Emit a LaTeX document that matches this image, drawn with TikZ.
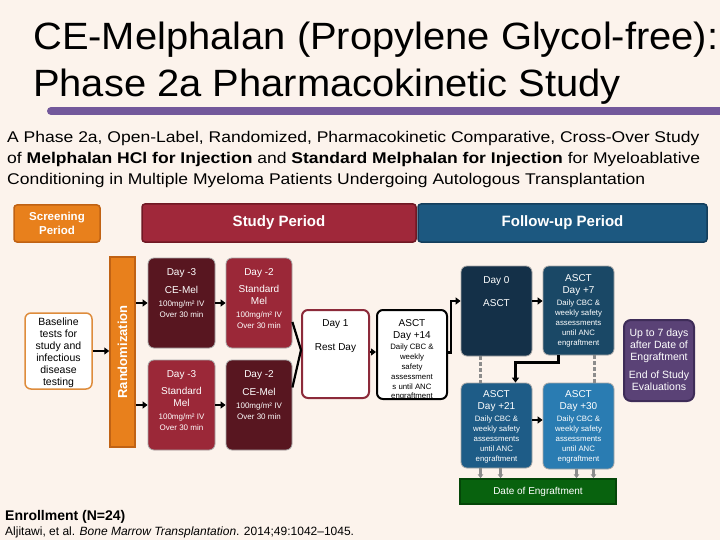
\documentclass[tikz,border=0pt]{standalone}
\usepackage{fontspec}
\setmainfont{Liberation Sans}
\usetikzlibrary{arrows.meta, positioning, calc}
\definecolor{bgcream}{RGB}{252,243,236}
\definecolor{titlepurple}{RGB}{115,88,155}
\definecolor{scrorange}{RGB}{232,128,28}
\definecolor{scrorangedark}{RGB}{192,98,20}
\definecolor{studyred}{RGB}{160,40,58}
\definecolor{studyreddark}{RGB}{112,24,36}
\definecolor{followblue}{RGB}{28,88,128}
\definecolor{followbluedark}{RGB}{20,62,92}
\definecolor{celmaroon}{RGB}{88,22,32}
\definecolor{stdred}{RGB}{155,40,56}
\definecolor{restedge}{RGB}{140,42,58}
\definecolor{dayzero}{RGB}{20,48,72}
\definecolor{dayseven}{RGB}{26,72,102}
\definecolor{daytwentyone}{RGB}{30,92,135}
\definecolor{daythirty}{RGB}{42,124,178}
\definecolor{engrgreen}{RGB}{8,98,14}
\definecolor{engrgreendark}{RGB}{4,70,8}
\definecolor{eospurple}{RGB}{90,66,118}
\definecolor{eospurpledark}{RGB}{62,44,88}
\definecolor{arrowgray}{RGB}{140,140,140}
\definecolor{baseorange}{RGB}{222,140,60}

\newcommand{\inbox}[3]{\parbox[c][#2][t]{#1}{\centering #3}}
\newcommand{\dayfont}{\fontsize{10}{12}\selectfont}
\newcommand{\dosefont}{\fontsize{8}{11}\selectfont}
\newcommand{\notefont}{\fontsize{7.8}{9.8}\selectfont}
\newcommand{\subline}[1]{\scalebox{1.13}[1]{#1}}

\tikzset{
  phase/.style={rounded corners=3pt, line width=1.5pt, text=white, align=center, inner sep=0pt},
  dosebox/.style={rounded corners=6pt, draw=black!35, line width=0.8pt, text=white, inner sep=3pt},
  followbox/.style={rounded corners=6pt, draw=gray!70, line width=0.8pt, text=white, inner sep=3pt},
  plainbox/.style={rounded corners=6pt, fill=white, line width=2pt, text=black, inner sep=3pt},
  arr/.style={-{Triangle[length=5pt,width=7pt]}, line width=2.5pt},
  grayarr/.style={-{Triangle[length=4pt,width=5.5pt]}, line width=2.2pt, draw=arrowgray},
  graydash/.style={line width=2.8pt, draw=arrowgray, dash pattern=on 4pt off 2pt}
}

\begin{document}
\begin{tikzpicture}[x=1pt, y=-1pt]
\useasboundingbox (0,0) rectangle (720,540);
\fill[bgcream] (0,0) rectangle (720,540);

% title
\node[anchor=base west, inner sep=0pt, font=\fontsize{38}{38}\selectfont] (titleA) at (33,50)
  {\scalebox{1.05}[1]{CE-Melphalan (Propylene Glycol-free):}};
\node[anchor=base west, inner sep=0pt, font=\fontsize{38}{38}\selectfont] (titleB) at (33,97)
  {\scalebox{1.05}[1]{Phase 2a Pharmacokinetic Study}};
\draw[titlepurple, line width=8pt, line cap=round] (51,111) -- (720,111);

\node[anchor=north west, inner sep=0pt, align=left, font=\fontsize{15.5}{21}\selectfont] (subtitle) at (7,131)
  {\subline{A Phase 2a, Open-Label, Randomized, Pharmacokinetic Comparative, Cross-Over Study}\\
   \subline{of \textbf{Melphalan HCl for Injection} and \textbf{Standard Melphalan for Injection} for Myeloablative}\\
   \subline{Conditioning in Multiple Myeloma Patients Undergoing Autologous Transplantation}};

% period headers
\node[phase, fill=scrorange, draw=scrorangedark, minimum width=86pt, minimum height=37pt,
  font=\bfseries\fontsize{11.5}{14}\selectfont] (screen) at (57,223.5) {Screening\\Period};
\node[phase, fill=studyred, draw=studyreddark, minimum width=274pt, minimum height=38pt,
  font=\bfseries\fontsize{15}{17}\selectfont] (study) at (279,223) {Study Period};
\node[phase, fill=followblue, draw=followbluedark, minimum width=289pt, minimum height=38pt,
  font=\bfseries\fontsize{15}{17}\selectfont] (follow) at (562.5,223) {Follow-up Period};

% screening and randomization
\node[plainbox, draw=baseorange, line width=1.5pt] (baseline) at (58.5,351)
  {\inbox{61pt}{70pt}{\vspace*{2pt}\fontsize{10.5}{12}\selectfont Baseline\\tests for\\study and\\infectious\\disease\\testing\par}};
\node[phase, rounded corners=0pt, fill=scrorange, draw=scrorangedark, minimum width=25pt, minimum height=190pt,
  font=\bfseries\fontsize{13}{15}\selectfont] (rand) at (122.5,352)
  {\rotatebox{90}{Randomization}};

% study period doses
\node[dosebox, fill=celmaroon] (ceA) at (181.5,303)
  {\inbox{61pt}{84pt}{\vspace*{8pt}{\dayfont Day -3\par}\vspace{6pt}{\dayfont CE-Mel\par}\vspace{2pt}{\dosefont 100mg/m² IV\\Over 30 min\par}}};
\node[dosebox, fill=stdred] (stdB) at (259,303)
  {\inbox{60pt}{84pt}{\vspace*{8pt}{\dayfont Day -2\par}\vspace{5pt}{\dayfont Standard\\Mel\par}\vspace{2pt}{\dosefont 100mg/m² IV\\Over 30 min\par}}};
\node[dosebox, fill=stdred] (stdC) at (181.5,405)
  {\inbox{61pt}{84pt}{\vspace*{8pt}{\dayfont Day -3\par}\vspace{5pt}{\dayfont Standard\\Mel\par}\vspace{2pt}{\dosefont 100mg/m² IV\\Over 30 min\par}}};
\node[dosebox, fill=celmaroon] (ceD) at (259,405)
  {\inbox{60pt}{84pt}{\vspace*{8pt}{\dayfont Day -2\par}\vspace{6pt}{\dayfont CE-Mel\par}\vspace{2pt}{\dosefont 100mg/m² IV\\Over 30 min\par}}};

\node[plainbox, draw=restedge] (rest) at (335.5,354)
  {\inbox{61pt}{82pt}{\vspace*{7pt}{\dayfont Day 1\par}\vspace{12pt}{\dayfont Rest Day\par}}};
\node[plainbox, draw=black] (dfourteen) at (412,354.5)
  {\inbox{64pt}{83pt}{\vspace*{7pt}{\dayfont ASCT\\Day +14\par}\vspace{1.2pt}{\notefont Daily CBC \&\\weekly\\safety\\assessment\\s until ANC\\engraftment\par}}};

% follow-up period
\node[followbox, fill=dayzero] (dzero) at (496.5,311)
  {\inbox{65pt}{84pt}{\vspace*{8pt}{\dayfont Day 0\par}\vspace{11pt}{\dayfont ASCT\par}}};
\node[followbox, fill=dayseven] (dseven) at (578.5,310.5)
  {\inbox{65pt}{83pt}{\vspace*{6pt}{\dayfont ASCT\\Day +7\par}\vspace{2.2pt}{\notefont Daily CBC \&\\weekly safety\\assessments\\until ANC\\engraftment\par}}};
\node[followbox, fill=daytwentyone] (dtwentyone) at (496.5,425.5)
  {\inbox{65pt}{79pt}{\vspace*{5pt}{\dayfont ASCT\\Day +21\par}\vspace{2.2pt}{\notefont Daily CBC \&\\weekly safety\\assessments\\until ANC\\engraftment\par}}};
\node[followbox, fill=daythirty] (dthirty) at (578.5,426)
  {\inbox{65pt}{80pt}{\vspace*{5pt}{\dayfont ASCT\\Day +30\par}\vspace{2.2pt}{\notefont Daily CBC \&\\weekly safety\\assessments\\until ANC\\engraftment\par}}};
\node[phase, rounded corners=0pt, fill=engrgreen, draw=engrgreendark, minimum width=156pt, minimum height=25pt,
  font=\fontsize{10}{12}\selectfont] (engr) at (538,491.5) {Date of Engraftment};
\node[phase, rounded corners=7pt, fill=eospurple, draw=eospurpledark, line width=2pt] (eos) at (659,360.5)
  {\inbox{70pt}{81pt}{\vspace*{9pt}\fontsize{10.5}{12}\selectfont Up to 7 days\\after Date of\\Engraftment\par\vspace{6pt}End of Study\\Evaluations\par}};

% connectors
\draw[arr] (baseline.east) -- (baseline.east -| rand.west);
\draw[arr] (rand.east |- ceA) -- (ceA);
\draw[arr] (rand.east |- stdC) -- (stdC);
\draw[arr] (ceA) -- (stdB);
\draw[arr] (stdC) -- (ceD);
\draw[line width=2.2pt] ([yshift=-19pt]stdB.east) -- ([yshift=4pt]rest.west);
\draw[line width=2.2pt] ([yshift=17.5pt]ceD.east) -- ([yshift=4pt]rest.west);
\draw[arr] ([yshift=2pt]rest.east) -- ([yshift=2pt]rest.east -| dfourteen.west);
\draw[arr] ([yshift=2pt]dfourteen.east) -- ++(3,0) |- ([yshift=10pt]dzero.west);
\draw[arr] ([yshift=10pt]dzero.east) -- ([yshift=10pt]dzero.east -| dseven.west);
\draw[arr] ([xshift=-20pt]dseven.south) -- ++(0,7) -| ([xshift=19pt]dtwentyone.north);
\draw[arr] ([yshift=5.5pt]dtwentyone.east) -- ([yshift=5.5pt]dtwentyone.east -| dthirty.west);
\draw[graydash] ([xshift=-16pt]dzero.south) -- ([xshift=-16pt]dtwentyone.north);
\draw[graydash] ([xshift=16pt]dseven.south) -- ([xshift=16pt]dthirty.north);
\foreach \dx/\blk in {-16/dtwentyone, 4/dtwentyone, -2/dthirty, 15/dthirty}
  \draw[grayarr] ([xshift=\dx pt]\blk.south) -- ([xshift=\dx pt]\blk.south |- engr.north);

% footer
\node[anchor=base west, inner sep=0pt, font=\bfseries\fontsize{14}{16}\selectfont] (enroll) at (5,520) {Enrollment (N=24)};
\node[anchor=base west, inner sep=0pt, font=\fontsize{12}{14}\selectfont] (cite) at (5,535)
  {Aljitawi, et al. \textit{Bone Marrow Transplantation}. 2014;49:1042–1045.};
\end{tikzpicture}
\end{document}
